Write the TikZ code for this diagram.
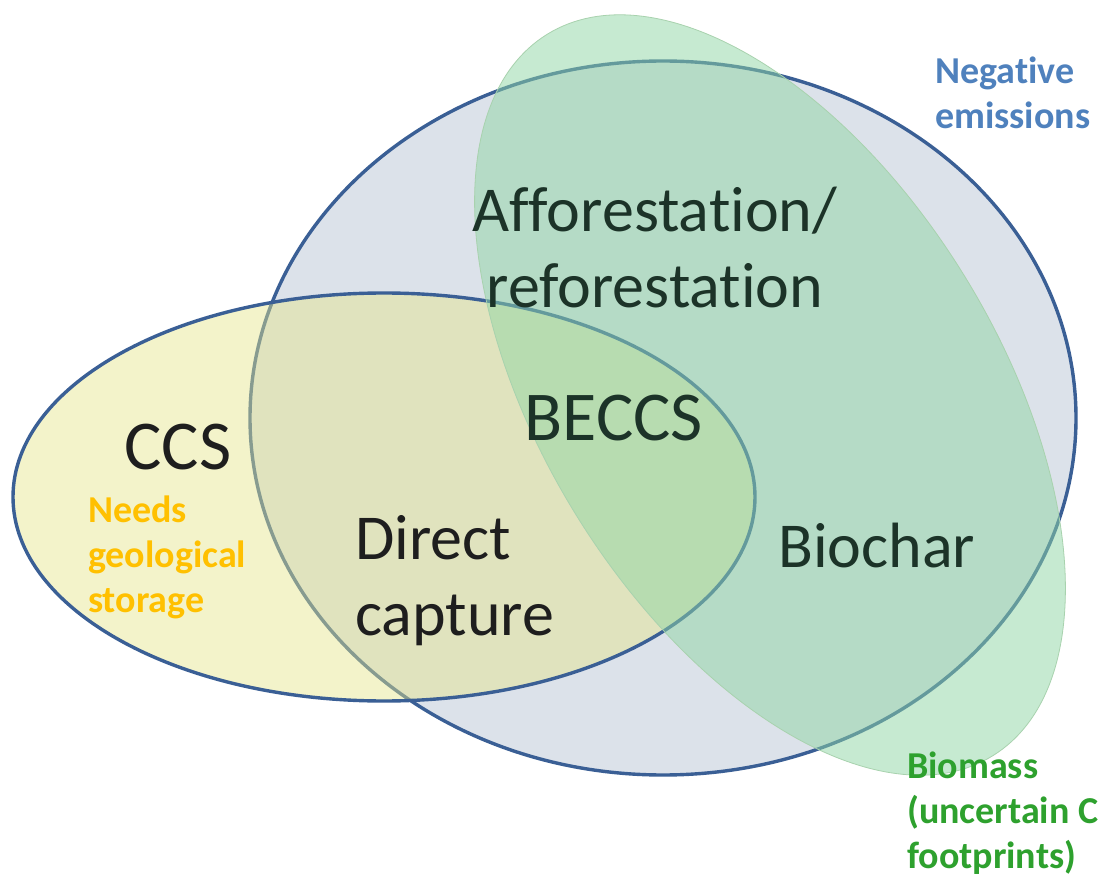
\documentclass[tikz,border=0pt]{standalone}
\usepackage{fontspec}
\setmainfont[Ligatures=NoCommon]{Carlito}
\begin{document}
\begin{tikzpicture}[x=1pt,y=-1pt,
  outl/.style={draw=outblue,line width=3.4pt},
  bigtext/.style={inner sep=0pt,text=darktext,font={\fontsize{64}{76}\selectfont}},
  lbl/.style={inner sep=0pt,align=left,font={\fontsize{38}{45}\selectfont\bfseries}}]
\definecolor{outblue}{HTML}{3A5F95}
\definecolor{bigfill}{HTML}{DCE2EA}
\definecolor{yelfill}{HTML}{E6E68A}
\definecolor{grnfill}{HTML}{8FD6A4}
\definecolor{grnedge}{HTML}{A8D2AE}
\definecolor{darktext}{HTML}{1E1E1E}
\definecolor{greentext}{HTML}{1C3328}
\definecolor{negblue}{HTML}{4F81BD}
\definecolor{needsor}{HTML}{FFC000}
\definecolor{biogreen}{HTML}{2EA12E}
\useasboundingbox (0,0) rectangle (1104,877);
\fill[white] (0,0) rectangle (1104,877);
% negative emissions ellipse
\fill[bigfill] (663,418) ellipse [x radius=413, y radius=357];
\draw[outl] (663,418) ellipse [x radius=413, y radius=357];
% CCS ellipse
\fill[yelfill,opacity=0.45] (384,497) ellipse [x radius=371, y radius=204];
\draw[outl] (384,497) ellipse [x radius=371, y radius=204];
% biomass ellipse
\fill[grnfill,opacity=0.5,rotate around={-58.3:(770,395)}] (770,395) ellipse [x radius=424, y radius=228];
\draw[grnedge,line width=0.8pt,rotate around={-58.3:(770,395)}] (770,395) ellipse [x radius=424, y radius=228];
% dark texts
\node[bigtext,text=greentext,anchor=base,align=center] (afr) at (655,308) {Afforestation/\\reforestation};
\node[bigtext,text=greentext,anchor=base,font={\fontsize{70}{84}\selectfont}] (beccs) at (614,440) {BECCS};
\node[bigtext,anchor=base,font={\fontsize{70}{84}\selectfont}] (ccs) at (178,470) {CCS};
\node[bigtext,anchor=base west,align=left] (dc) at (355,635) {Direct\\capture};
\node[bigtext,text=greentext,anchor=base west] (biochar) at (778,567) {Biochar};
% labels
\node[lbl,text=negblue,anchor=base west] (neg) at (935,129) {Negative\\emissions};
\node[lbl,text=needsor,anchor=base west] (needs) at (88,612) {Needs\\geological\\storage};
\node[lbl,text=biogreen,anchor=base west] (bio) at (907,868) {Biomass\\(uncertain C\\footprints)};
\end{tikzpicture}
\end{document}
